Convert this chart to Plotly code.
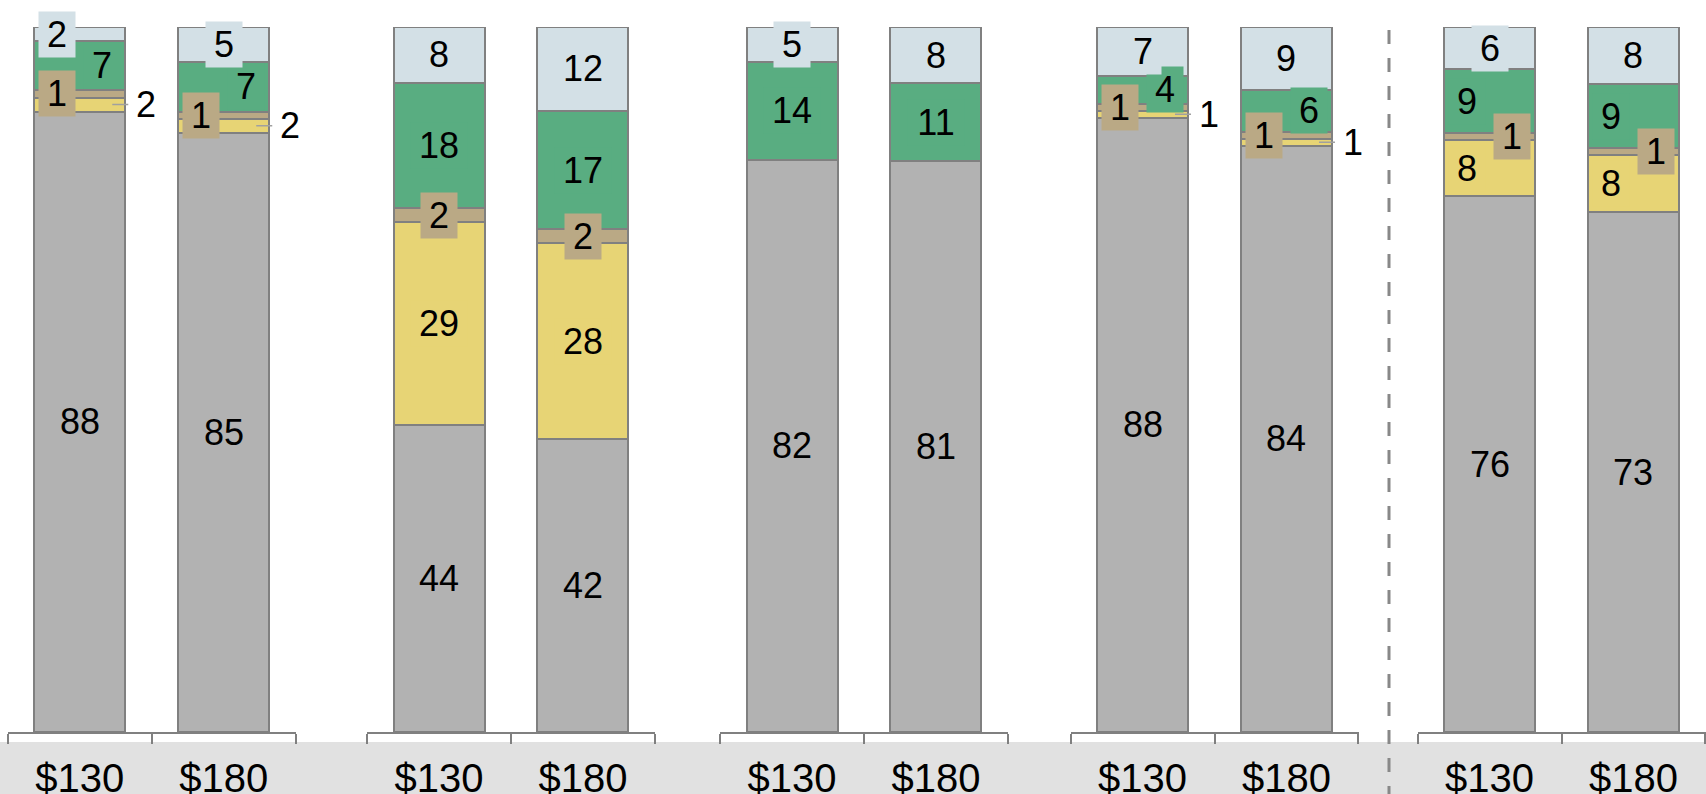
import plotly.graph_objects as go

# ---------------- data ----------------
categories = ["$130", "$180"]
groups = ["Group 1", "Group 2", "Group 3", "Group 4", "Group 5"]
series_names = ["Series 1", "Series 2", "Series 3", "Series 4", "Series 5"]

# values per group: [value for $130, value for $180]
s1_grey = [[88, 85], [44, 42], [82, 81], [88, 84], [76, 73]]
s2_yellow = [[2, 2], [29, 28], [0, 0], [1, 1], [8, 8]]
s3_tan = [[1, 1], [2, 2], [0, 0], [1, 1], [1, 1]]
s4_green = [[7, 7], [18, 17], [14, 11], [4, 6], [9, 9]]
s5_lightblue = [[2, 5], [8, 12], [5, 8], [7, 9], [6, 8]]

# ---------------- style ----------------
series_values = [s1_grey, s2_yellow, s3_tan, s4_green, s5_lightblue]
colors = ["#b2b2b2", "#e7d475", "#baa985", "#59ad81", "#d3e0e6"]
# label placement per group / bar / series: c=center, l=left, r=right, o=outside, ''=none
placement = [
    [["c", "o", "l", "r", "l"], ["c", "o", "l", "r", "c"]],
    [["c", "c", "c", "c", "c"], ["c", "c", "c", "c", "c"]],
    [["c", "", "", "c", "c"], ["c", "", "", "c", "c"]],
    [["c", "o", "l", "r", "c"], ["c", "o", "l", "r", "c"]],
    [["c", "l", "r", "l", "c"], ["c", "l", "r", "l", "c"]],
]

W, H = 1706, 794
top_px, axis_px = 27, 732
group_centers_px = [151.75, 511, 864, 1214.5, 1561.5]
group_width_px = 288
bargap = 0.368
cat_px = group_width_px / 2
half_bar_px = cat_px * (1 - bargap) / 2
edge = "#808080"
label_font = dict(family="Liberation Sans, Arial, sans-serif", size=36, color="black")
eps = 1e-4

fig = go.Figure()
layout_axes = {}
annotations = []
shapes = []

for g in range(len(groups)):
    k = g + 1
    xa = "x" if k == 1 else f"x{k}"
    ya = "y" if k == 1 else f"y{k}"
    for s in range(len(series_names)):
        fig.add_trace(go.Bar(
            x=categories, y=series_values[s][g], name=series_names[s],
            xaxis=xa, yaxis=ya, showlegend=False,
            marker=dict(color=colors[s], line=dict(color=edge, width=2)),
            hoverinfo="skip",
        ))
    c0 = (group_centers_px[g] - group_width_px / 2) / W
    c1 = min(1.0, (group_centers_px[g] + group_width_px / 2) / W)
    layout_axes["xaxis" if k == 1 else f"xaxis{k}"] = dict(
        domain=[c0, c1], anchor=ya, type="category", automargin=False,
        range=[-0.5 - eps, len(categories) - 0.5 + eps], autorange=False,
        showline=True, linecolor=edge, linewidth=2,
        ticks="outside", tickson="boundaries", ticklen=10, tickwidth=1.5, tickcolor=edge,
        showgrid=False, zeroline=False, fixedrange=True,
        tickfont=dict(family="Liberation Sans Narrow, Arial Narrow, Liberation Sans, Arial",
                      size=40, color="black"),
        ticklabelstandoff=10,
    )
    layout_axes["yaxis" if k == 1 else f"yaxis{k}"] = dict(
        domain=[0, 1], anchor=xa, range=[0, 100], autorange=False, visible=False,
        fixedrange=True, automargin=False,
    )

    # labels
    for b, cat in enumerate(categories):
        total = sum(series_values[s][g][b] for s in range(len(series_names)))
        cum = 0
        for s in range(len(series_names)):
            v = series_values[s][g][b]
            lo = cum / total * 100
            cum += v
            hi = cum / total * 100
            mid = (lo + hi) / 2
            p = placement[g][b][s]
            if not p:
                continue
            txt = str(v)
            if p == "o":
                annotations.append(dict(
                    x=cat, y=mid, xref=xa, yref=ya, text=txt, showarrow=False,
                    xanchor="left", yanchor="middle", xshift=half_bar_px + 8,
                    font=label_font, borderpad=2,
                ))
                shapes.append(dict(
                    type="line", xref=xa, yref=ya,
                    x0=b + (half_bar_px - 13) / cat_px, x1=b + (half_bar_px + 3) / cat_px,
                    y0=mid, y1=mid, line=dict(color="#a0a0a0", width=1.5),
                ))
            else:
                shift = {"c": 0, "l": -22.5, "r": 22.5}[p]
                annotations.append(dict(
                    x=cat, y=mid, xref=xa, yref=ya, text=txt, showarrow=False,
                    xanchor="center", yanchor="middle", xshift=shift,
                    font=label_font, bgcolor=colors[s], borderpad=2,
                    width=20 * len(txt) + 12,
                ))

plot_h = axis_px - top_px
# grey band behind the category labels
shapes.insert(0, dict(
    type="rect", xref="paper", yref="paper", layer="below",
    x0=0, x1=1, y0=-(H - axis_px) / plot_h - 0.02, y1=-(742 - axis_px) / plot_h,
    fillcolor="#e1e1e1", line=dict(width=0),
))
# dashed separator
sep_x = 1389
shapes.append(dict(
    type="line", xref="paper", yref="paper",
    x0=sep_x / W, x1=sep_x / W, y0=(H - top_px - 3 - (H - axis_px)) / plot_h,
    y1=-(H - axis_px) / plot_h - 0.02,
    line=dict(color="#888888", width=3, dash="14px,14px"),
))

fig.update_layout(
    width=W, height=H,
    margin=dict(l=0, r=0, t=top_px, b=H - axis_px, autoexpand=False),
    barmode="stack", barnorm="percent", bargap=bargap,
    paper_bgcolor="white", plot_bgcolor="white",
    annotations=annotations, shapes=shapes,
    **layout_axes,
)

fig.write_html("out.html", config={"displayModeBar": False})
